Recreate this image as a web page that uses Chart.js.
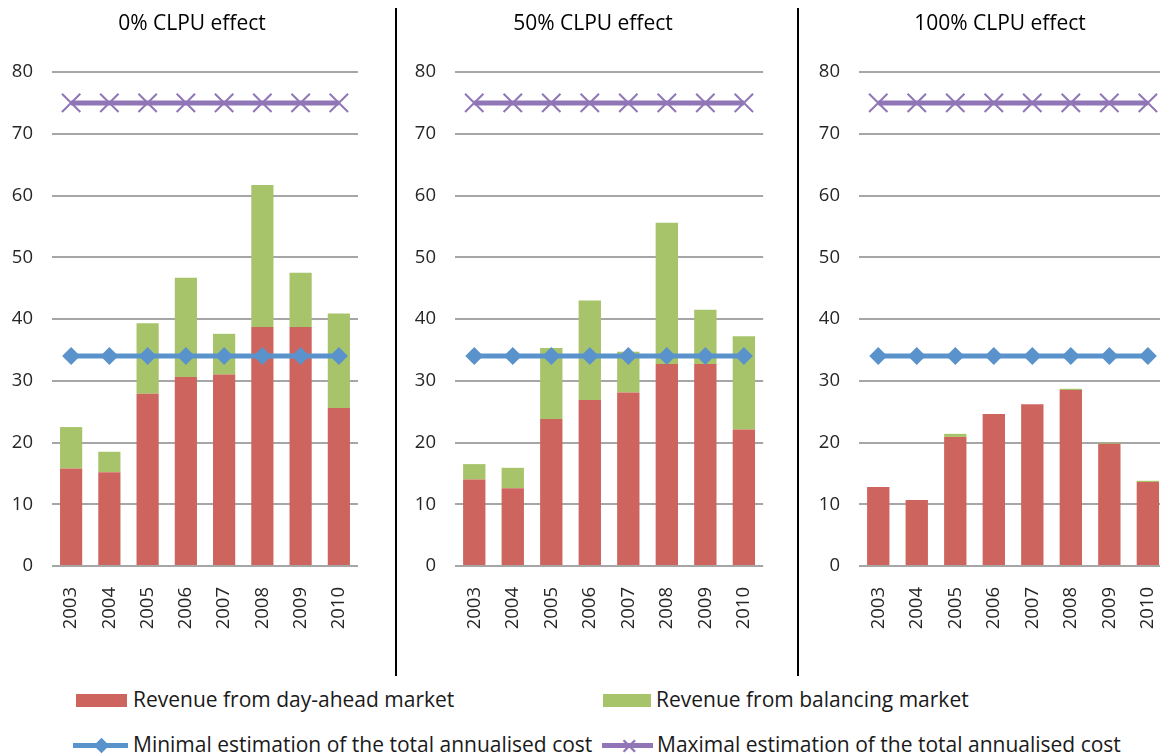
<!DOCTYPE html>
<html>
<head>
<meta charset="utf-8">
<script src="https://cdn.jsdelivr.net/npm/chart.js@4.4.1/dist/chart.umd.min.js"></script>
<style>
  html, body { margin: 0; padding: 0; background: #fff; overflow: hidden; }
  #page { position: relative; width: 1160px; height: 756px; overflow: hidden; font-family: 'Open Sans', sans-serif; }
  .panel { position: absolute; top: 0; height: 680px; }
  .titulo { position: absolute; top: 9px; width: 300px; text-align: center; font-size: 21px; line-height: 26px; color: #000; white-space: nowrap; }
  .sep { position: absolute; top: 8px; width: 2px; height: 668px; background: #000; }
  .leg { position: absolute; font-size: 21px; color: #1a1a1a; white-space: nowrap; line-height: 24px; }
  .box { position: absolute; height: 13px; }
  .lline { position: absolute; height: 5px; }
  .diam { position: absolute; width: 11px; height: 11px; background: #5a93cc; transform: rotate(45deg); }
  .xmark { position: absolute; color: #9076b6; font-size: 22px; line-height: 22px; }
</style>
</head>
<body>
<div id="page">
  <div class="panel" style="left:0px"><canvas id="g1"></canvas></div>
  <div class="panel" style="left:403px"><canvas id="g2"></canvas></div>
  <div class="panel" style="left:807px"><canvas id="g3"></canvas></div>
  <div class="titulo" id="t1" style="left:42px"></div>
  <div class="titulo" id="t2" style="left:443px"></div>
  <div class="titulo" id="t3" style="left:850px"></div>
  <div class="sep" style="left:395px"></div>
  <div class="sep" style="left:797px"></div>

  <div class="box" style="left:76px;top:694px;width:51px;background:#cd645e"></div>
  <div class="leg" style="left:133px;top:687px">Revenue from day-ahead market</div>
  <div class="box" style="left:603px;top:694px;width:48px;background:#a8c46a"></div>
  <div class="leg" style="left:656px;top:687px">Revenue from balancing market</div>

  <div class="lline" style="left:73px;top:743px;width:55px;background:#5a93cc"></div>
  <div class="diam" style="left:96px;top:740px"></div>
  <div class="leg" style="left:133px;top:732px">Minimal estimation of the total annualised cost</div>
  <div class="lline" style="left:602px;top:743px;width:51px;background:#9076b6"></div>
  <div class="xmark" style="left:620px;top:734px">&#x2715;</div>
  <div class="leg" style="left:657px;top:732px">Maximal estimation of the total annualised cost</div>
</div>
<script>
const anios = ['2003', '2004', '2005', '2006', '2007', '2008', '2009', '2010'];
const titulos = ['0% CLPU effect', '50% CLPU effect', '100% CLPU effect'];

// revenue from day-ahead market (red) per panel
const diaAnterior0 = [15.8, 15.2, 27.9, 30.6, 31.0, 38.7, 38.7, 25.6];
const diaAnterior50 = [14.0, 12.6, 23.8, 26.9, 28.1, 32.7, 32.7, 22.1];
const diaAnterior100 = [12.8, 10.7, 20.9, 24.6, 26.2, 28.5, 19.8, 13.6];

// revenue from balancing market (green), stacked on top
const balance0 = [6.7, 3.3, 11.4, 16.1, 6.6, 23.0, 8.8, 15.3];
const balance50 = [2.5, 3.3, 11.5, 16.1, 6.6, 22.9, 8.8, 15.1];
const balance100 = [0, 0, 0.5, 0, 0, 0.2, 0.15, 0.2];

const costoMin = [34, 34, 34, 34, 34, 34, 34, 34];
const costoMax = [75, 75, 75, 75, 75, 75, 75, 75];

const ticksY = [0, 10, 20, 30, 40, 50, 60, 70, 80];

const rojo = '#cd645e';
const verde = '#a8c46a';
const azul = '#5a93cc';
const morado = '#9076b6';

function crearPanel(idCanvas, rojos, verdes) {
    const ctx = document.getElementById(idCanvas).getContext('2d');
    return new Chart(ctx, {
        type: 'bar',
        data: {
            labels: anios,
            datasets: [
                {
                    label: 'Revenue from day-ahead market',
                    data: rojos,
                    backgroundColor: rojo,
                    stack: 'ingresos',
                    order: 2,
                    categoryPercentage: 1,
                    barPercentage: 0.58
                },
                {
                    label: 'Revenue from balancing market',
                    data: verdes,
                    backgroundColor: verde,
                    stack: 'ingresos',
                    order: 2,
                    categoryPercentage: 1,
                    barPercentage: 0.58
                },
                {
                    type: 'line',
                    label: 'Minimal estimation of the total annualised cost',
                    data: costoMin,
                    borderColor: azul,
                    backgroundColor: azul,
                    borderWidth: 5,
                    pointStyle: 'rectRot',
                    pointRadius: 9,
                    pointBorderWidth: 0,
                    stack: 'min',
                    order: 1
                },
                {
                    type: 'line',
                    label: 'Maximal estimation of the total annualised cost',
                    data: costoMax,
                    borderColor: morado,
                    backgroundColor: morado,
                    borderWidth: 5,
                    pointStyle: 'crossRot',
                    pointRadius: 13,
                    pointBorderWidth: 2,
                    stack: 'max',
                    order: 0
                }
            ]
        },
        options: {
            responsive: false,
            animation: false,
            layout: { padding: { left: 0, right: 0, top: 72, bottom: 0 } },
            plugins: {
                legend: { display: false },
                tooltip: { enabled: false }
            },
            scales: {
                x: {
                    stacked: true,
                    grid: { display: false },
                    border: { display: false },
                    ticks: {
                        color: '#262626',
                        font: { family: 'Open Sans', size: 18.5 },
                        minRotation: 90,
                        maxRotation: 90,
                        padding: 13
                    },
                    afterFit: function (eje) { eje.height = 114; }
                },
                y: {
                    stacked: true,
                    min: 0,
                    max: 80,
                    afterBuildTicks: function (eje) { eje.ticks = ticksY.map(v => ({ value: v })); },
                    grid: { color: '#a6a6a6', lineWidth: 2, drawTicks: false },
                    border: { display: false },
                    ticks: {
                        color: '#262626',
                        font: { family: 'Open Sans', size: 18.5 },
                        padding: 19
                    },
                    afterFit: function (eje) { eje.width = 52; }
                }
            }
        }
    });
}

function iniciar() {
    const anchos = { g1: 375, g2: 377, g3: 377 };
    document.querySelectorAll('canvas').forEach(c => { c.width = anchos[c.id]; c.height = 680; });
    document.getElementById('t1').textContent = titulos[0];
    document.getElementById('t2').textContent = titulos[1];
    document.getElementById('t3').textContent = titulos[2];
    crearPanel('g1', diaAnterior0, balance0);
    crearPanel('g2', diaAnterior50, balance50);
    crearPanel('g3', diaAnterior100, balance100);
}

if (document.fonts && document.fonts.load) {
    document.fonts.load('20px "Open Sans"').then(iniciar, iniciar);
} else {
    iniciar();
}
</script>
</body>
</html>
